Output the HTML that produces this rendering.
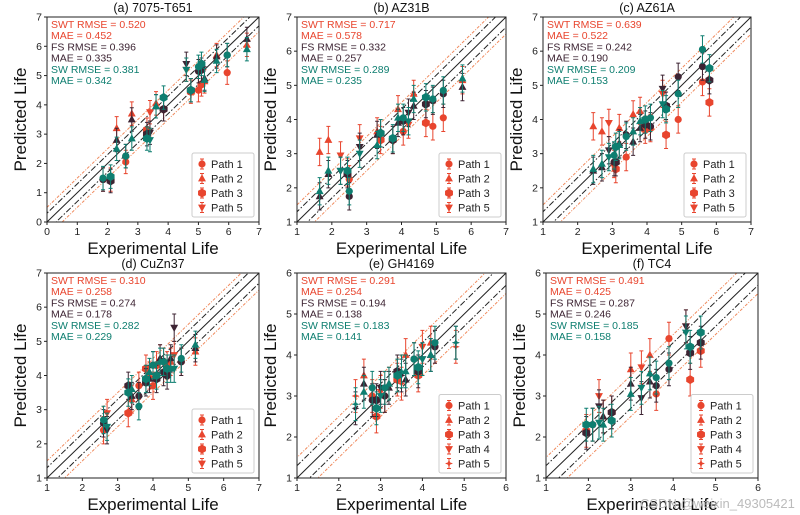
<!DOCTYPE html>
<html><head><meta charset="utf-8"><style>
body{margin:0;background:#fff;}
svg{display:block;font-family:"Liberation Sans","DejaVu Sans",sans-serif;}
</style></head><body>
<svg id="chart" width="800" height="515" viewBox="0 0 800 515" xmlns="http://www.w3.org/2000/svg"></svg>
<script>
// ---- data ----
const panelTitles = ["(a) 7075-T651","(b) AZ31B","(c) AZ61A","(d) CuZn37","(e) GH4169","(f) TC4"];
const xRanges = [[0,7],[1,7],[1,7],[1,7],[1,6],[1,6]];
const yRanges = [[0,7],[1,7],[1,7],[1,7],[1,6],[1,6]];
const swtStats = [["0.520","0.452"],["0.717","0.578"],["0.639","0.522"],["0.310","0.258"],["0.291","0.254"],["0.491","0.425"]];
const fsStats = [["0.396","0.335"],["0.332","0.257"],["0.242","0.190"],["0.274","0.178"],["0.194","0.138"],["0.287","0.246"]];
const swStats = [["0.381","0.342"],["0.289","0.235"],["0.209","0.153"],["0.282","0.229"],["0.183","0.141"],["0.185","0.158"]];
const legendPaths = [[1,2,3,5],[1,2,3,5],[1,2,3,5],[1,2,3,5],[1,2,3,4,5],[1,2,3,4,5]];
const expX = [
 [1.85,2.1,2.3,2.6,2.8,3.3,3.4,3.6,3.85,4.6,4.75,5.0,5.1,5.2,5.6,5.95,6.6],
 [1.65,1.9,2.25,2.45,2.5,2.8,3.3,3.4,3.75,3.9,4.05,4.2,4.35,4.7,4.9,5.2,5.75],
 [2.45,2.7,2.9,3.05,3.1,3.2,3.4,3.6,3.8,3.95,4.1,4.45,4.55,4.9,5.6,5.8],
 [2.6,2.7,3.3,3.4,3.6,3.8,3.9,4.0,4.1,4.2,4.3,4.4,4.5,4.6,4.8,5.2],
 [2.4,2.6,2.8,2.9,3.0,3.1,3.2,3.4,3.5,3.6,3.8,3.9,4.0,4.2,4.3,4.8],
 [1.95,2.1,2.25,2.35,2.55,3.0,3.25,3.45,3.6,3.9,4.3,4.4,4.65]
];
const swtVals = [
 [1.45,1.45,3.2,2.05,3.7,3.15,3.75,4.05,3.85,5.2,4.45,4.5,4.7,4.8,5.7,5.1,6.05],
 [3.05,3.4,2.95,2.45,2.25,3.45,3.65,3.4,3.4,4.3,3.65,3.85,4.75,3.9,3.8,4.05,5.15],
 [3.8,3.65,3.9,2.7,2.55,3.75,2.9,4.15,4.25,3.7,3.75,4.75,3.55,4.0,5.1,4.5],
 [2.4,2.9,2.9,3.3,3.7,4.2,4.0,3.7,4.3,4.5,4.4,4.3,4.4,4.6,4.4,4.7],
 [3.0,3.5,3.0,2.5,3.1,3.0,3.3,3.4,3.3,4.0,3.9,3.5,4.2,4.3,4.2,4.2],
 [2.15,2.3,3.0,2.5,2.6,3.65,3.7,4.0,3.05,4.4,4.7,3.4,4.1]
];
const fsVals = [
 [1.45,1.4,2.8,2.25,3.5,3.0,3.05,3.95,3.85,5.4,4.5,5.15,5.2,4.9,5.65,5.7,6.25],
 [1.75,2.4,2.5,2.4,1.75,3.2,3.55,3.6,3.4,3.9,3.95,4.2,4.4,4.45,4.55,4.75,4.95],
 [2.5,2.6,3.1,2.75,2.75,3.3,3.55,3.35,3.75,3.85,3.8,4.9,4.4,5.25,5.55,5.15],
 [2.6,2.4,3.7,3.4,3.4,3.8,3.9,4.3,3.9,4.5,4.1,4.0,4.5,5.4,4.4,4.8],
 [2.7,3.3,2.9,2.9,3.2,3.0,3.2,3.6,3.5,3.4,3.9,3.6,3.9,4.0,4.2,4.3],
 [2.1,2.3,2.75,2.5,2.6,3.3,2.95,3.35,3.25,3.65,4.7,4.05,4.3]
];
const swVals = [
 [1.5,1.55,2.5,2.25,2.85,2.85,2.8,3.95,4.25,5.2,4.5,5.3,5.4,4.85,5.5,5.7,5.9],
 [1.9,2.5,2.5,2.5,1.9,3.0,3.25,3.6,3.45,4.05,4.05,3.95,4.6,4.65,4.6,4.85,5.2],
 [2.55,2.7,2.9,2.95,3.2,3.25,3.5,3.65,3.95,4.0,4.05,4.45,4.3,4.75,6.05,5.5],
 [2.7,2.5,3.5,3.6,3.1,3.9,4.1,4.3,4.0,4.4,4.4,4.2,4.2,4.2,4.5,4.9],
 [2.8,3.1,3.2,2.7,3.0,3.2,3.3,3.5,3.6,3.6,3.9,3.7,3.9,4.0,4.3,4.3],
 [2.3,2.3,2.35,2.3,2.4,3.05,3.2,3.55,3.45,3.8,4.55,4.2,4.55]
];
const pathIds = [
 [1,3,2,1,2,3,5,2,3,5,3,1,3,2,2,1,2],
 [2,2,5,3,1,5,2,3,3,2,1,5,2,3,1,1,2],
 [2,2,5,1,3,2,1,2,2,3,1,5,3,1,1,3],
 [1,5,3,2,1,3,2,1,3,2,1,3,2,5,1,2],
 [5,2,1,3,4,1,2,3,5,2,1,3,4,2,1,5],
 [3,1,4,2,3,2,4,2,1,1,4,3,3]
];
// ---- layout ----
const boxes=[[47,17,259,222],[297,17,506,222],[543,17,751,222],[47,273,259,478],[297,273,506,478],[546,273,758,478]];
const COL={swt:"#e8452e",fs:"#3d2433",sw:"#0e7e70",orange:"#f08a5d"};
const svg=document.getElementById('chart');
const NS="http://www.w3.org/2000/svg";
function mk(tag,attrs,parent){const e=document.createElementNS(NS,tag);for(const k in attrs)e.setAttribute(k,attrs[k]);(parent||svg).appendChild(e);return e;}
function shapeFor(p,pid){ if(pid===5 && p<4) return 4; return pid; }
function marker(g,path,cx,cy,color,s){
  let e;
  if(path===1){e=mk('circle',{cx:cx,cy:cy,r:s,fill:color},g);}
  else if(path===2){e=mk('polygon',{points:`${cx},${cy-s*1.2} ${cx-s*1.1},${cy+s*0.8} ${cx+s*1.1},${cy+s*0.8}`,fill:color},g);}
  else if(path===3){e=mk('polygon',{points:`${cx},${cy-s*1.25} ${cx+s*1.1},${cy-s*0.6} ${cx+s*1.1},${cy+s*0.6} ${cx},${cy+s*1.25} ${cx-s*1.1},${cy+s*0.6} ${cx-s*1.1},${cy-s*0.6}`,fill:color},g);}
  else if(path===4){e=mk('polygon',{points:`${cx},${cy+s*1.2} ${cx-s*1.1},${cy-s*0.8} ${cx+s*1.1},${cy-s*0.8}`,fill:color},g);}
  else {e=mk('polygon',{points:`${cx},${cy-s*1.2} ${cx+s*0.3},${cy-s*0.3} ${cx+s*1.1},${cy} ${cx+s*0.3},${cy+s*0.3} ${cx},${cy+s*1.2} ${cx-s*0.3},${cy+s*0.3} ${cx-s*1.1},${cy} ${cx-s*0.3},${cy-s*0.3}`,fill:color},g);}
  return e;
}
for(let p=0;p<6;p++){
  const [L,T,R,B]=boxes[p];
  const [x0,x1]=xRanges[p],[y0,y1]=yRanges[p];
  const sx=v=>L+(v-x0)/(x1-x0)*(R-L);
  const sy=v=>B-(v-y0)/(y1-y0)*(B-T);
  const g=mk('g',{});
  
  
  const cid='clip'+p;
  const cp=mk('clipPath',{id:cid},g);mk('rect',{x:L,y:T,width:R-L,height:B-T},cp);
  const t=mk('text',{x:(L+R)/2,y:T-5,'text-anchor':'middle','font-size':12.5,fill:'#111'},g);t.textContent=panelTitles[p];
  
  const lg=mk('g',{'clip-path':`url(#${cid})`},g);
  const refs=[[0,'#222','none',1],[0.3,'#222','6,2,1.5,2',1],[-0.3,'#222','6,2,1.5,2',1],[0.5,COL.orange,'3,1.5,1,1.5',1],[-0.5,COL.orange,'3,1.5,1,1.5',1]];
  refs.forEach(([o,c,d,w])=>{const ln=mk('line',{x1:sx(x0-1),y1:sy(x0-1+o),x2:sx(x1+1),y2:sy(x1+1+o),stroke:c,'stroke-width':w,'stroke-dasharray':d},lg);
    });
  const series=[[swtVals[p],COL.swt,'swt'],[fsVals[p],COL.fs,'fs'],[swVals[p],COL.sw,'sw']];
  series.forEach(([vals,c,nm])=>{
    vals.forEach((v,i)=>{
      const cx=sx(expX[p][i]),cy=sy(v);const eh=(0.4)/(y1-y0)*(B-T);
      const ebar=mk('path',{d:`M${cx},${cy-eh}V${cy+eh}M${cx-2},${cy-eh}H${cx+2}M${cx-2},${cy+eh}H${cx+2}`,stroke:c,'stroke-width':1,fill:'none'},lg);
      
      const m=marker(lg,shapeFor(p,pathIds[p][i]),cx,cy,c,3.6);
      
    });
  });
  mk('rect',{x:L,y:T,width:R-L,height:B-T,fill:'none',stroke:'#222','stroke-width':1},g);
  for(let v=x0;v<=x1;v++){const x=sx(v);mk('line',{x1:x,y1:B,x2:x,y2:B+3,stroke:'#222'},g);
    const tx=mk('text',{x:x,y:B+13,'text-anchor':'middle','font-size':10.5,fill:'#222'},g);tx.textContent=v;
    }
  for(let v=y0;v<=y1;v++){const y=sy(v);mk('line',{x1:L,y1:y,x2:L-3,y2:y,stroke:'#222'},g);
    const ty=mk('text',{x:L-5,y:y+3.5,'text-anchor':'end','font-size':10.5,fill:'#222'},g);ty.textContent=v;
    }
  const xl=mk('text',{x:(L+R)/2,y:B+32,'text-anchor':'middle','font-size':17,fill:'#111'},g);xl.textContent='Experimental Life';
  
  const yl=mk('text',{x:L-21,y:(T+B)/2,'text-anchor':'middle','font-size':17,fill:'#111',transform:`rotate(-90 ${L-21} ${(T+B)/2})`},g);yl.textContent='Predicted Life';
  
  const ann=[[`SWT RMSE = ${swtStats[p][0]}`,COL.swt],[`MAE = ${swtStats[p][1]}`,COL.swt],[`FS RMSE = ${fsStats[p][0]}`,COL.fs],[`MAE = ${fsStats[p][1]}`,COL.fs],[`SW RMSE = ${swStats[p][0]}`,COL.sw],[`MAE = ${swStats[p][1]}`,COL.sw]];
  ann.forEach(([s,c],i)=>{const a=mk('text',{x:L+4,y:T+11+i*11.2,'font-size':10.5,fill:c},g);a.textContent=s;
    });
  const lp=legendPaths[p];const lh=lp.length*14.5+6;const lw=62;
  const lgG=mk('g',{},g);
  mk('rect',{x:R-lw-5,y:B-lh-5,width:lw,height:lh,fill:'#fff',stroke:'#ccc',rx:2},lgG);
  lp.forEach((pid,i)=>{const y=B-lh-5+11+i*14.5;const mx=R-lw+5;
    const eg=mk('g',{},lgG);
    mk('path',{d:`M${mx},${y-5}V${y+5}M${mx-2},${y-5}H${mx+2}M${mx-2},${y+5}H${mx+2}`,stroke:COL.swt,'stroke-width':1},eg);
    marker(eg,shapeFor(p,pid),mx,y,COL.swt,3.6);
    const lt=mk('text',{x:mx+9,y:y+4,'font-size':11,fill:'#222'},eg);lt.textContent='Path '+pid;});
}
const wm=mk('text',{x:640,y:508,'font-size':13,fill:'#bbb'});wm.textContent='CSDN @weixin_49305421';

</script>
</body></html>
